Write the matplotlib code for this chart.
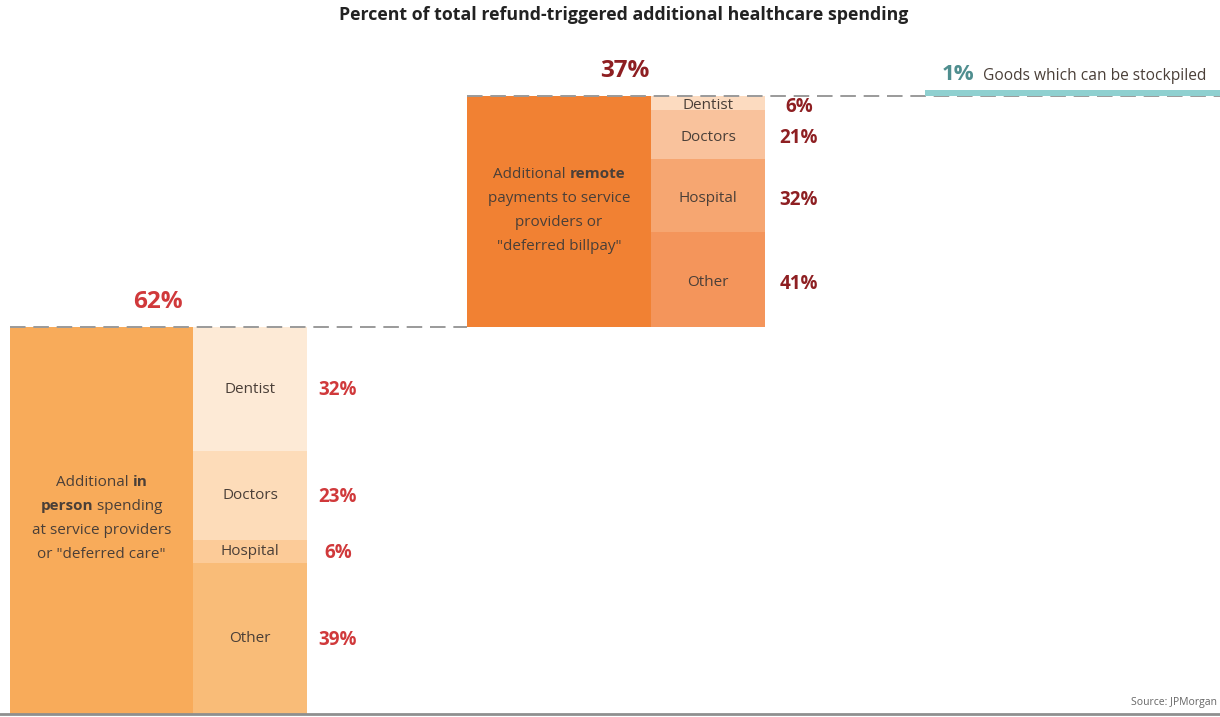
import matplotlib.pyplot as plt
from matplotlib.transforms import offset_copy

# share of total refund-triggered healthcare spending
group_names = ["in person", "remote", "goods"]
group_values = [62, 37, 1]

sub_labels = ["Dentist", "Doctors", "Hospital", "Other"]
in_person_split = [32, 23, 6, 39]
remote_split = [6, 21, 32, 41]

title = "Percent of total refund-triggered additional healthcare spending"
source = "Source: JPMorgan"

FONT = ["Open Sans", "DejaVu Sans"]
TXT = "#4a3f38"
GRID = "#9a9a9a"

in_person_cols = ["#F8AB5A", ["#FDEAD6", "#FDDCB9", "#FCCB98", "#F9BC78"]]
remote_cols = ["#F18133", ["#FCDBC0", "#F9C29C", "#F6A671", "#F4955B"]]
teal = "#8FD0D0"

fig = plt.figure(figsize=(12.2, 7.17), dpi=100)
ax = fig.add_axes([0, 0, 1, 1])
ax.set_xlim(0, 1220)
# 6.24 px per percentage point, baseline 3 px above the bottom edge
ax.set_ylim(-3 / 6.24, 714 / 6.24)
ax.axis("off")


def rich_line(ax, x, y, runs, size, color):
    """Draw a centred line made of (text, weight) runs."""
    fig.canvas.draw()
    r = fig.canvas.get_renderer()
    pieces = []
    for s, w in runs:
        t = ax.text(x, y, s, fontsize=size, fontweight=w, color=color,
                    family=FONT, ha="left", va="center")
        pieces.append(t)
    widths = [p.get_window_extent(r).width for p in pieces]
    total = sum(widths)
    off = -total / 2
    for p, w in zip(pieces, widths):
        p.set_transform(offset_copy(ax.transData, fig=fig, x=off * 72 / fig.dpi,
                                    units="points"))
        off += w


def draw_block(ax, x0, main_w, sub_w, bottom, value, split, cols, pct_color,
               body_lines, body_y, pct_x, total_x, nudge=0.0):
    top = bottom + value
    ax.bar(x0, value, width=main_w, bottom=bottom, align="edge",
           color=cols[0], linewidth=0)
    y = top
    for lab, share, c in zip(sub_labels, split, cols[1]):
        h = value * share / 100
        ax.bar(x0 + main_w, -h, width=sub_w, bottom=y, align="edge",
               color=c, linewidth=0)
        mid = y - h / 2 - nudge
        ax.text(x0 + main_w + sub_w / 2, mid, lab, ha="center", va="center",
                fontsize=11, color=TXT, family=FONT)
        ax.text(pct_x, mid - 0.2, f"{share}%", ha="center", va="center",
                fontsize=13.5, fontweight="bold", color=pct_color, family=FONT)
        y -= h
    ax.text(total_x, top + 4.1, f"{value}%", ha="center",
            va="center", fontsize=17.5, fontweight="bold", color=pct_color,
            family=FONT)
    for i, runs in enumerate(body_lines):
        rich_line(ax, x0 + main_w / 2, body_y - i * 24 / 6.24, runs, 11, TXT)


# first step: in-person spending
draw_block(ax, 10, 183, 114, 0, group_values[0], in_person_split,
           in_person_cols, "#D0393B",
           [[("Additional ", "normal"), ("in", "bold")],
            [("person", "bold"), (" spending", "normal")],
            [("at service providers", "normal")],
            [("or \"deferred care\"", "normal")]],
           (714 - 482) / 6.24, 338, 158)

# second step: remote payments
draw_block(ax, 467, 184, 114, group_values[0], group_values[1], remote_split,
           remote_cols, "#8E1F22",
           [[("Additional ", "normal"), ("remote", "bold")],
            [("payments to service", "normal")],
            [("providers or", "normal")],
            [("\"deferred billpay\"", "normal")]],
           (714 - 174) / 6.24, 799, 625, nudge=0.45)

# dashed step connectors
ax.plot([10, 467], [group_values[0]] * 2, ls=(0, (8, 4)), color=GRID, lw=1.4,
        zorder=3)
top2 = group_values[0] + group_values[1]
ax.plot([467, 1220], [top2] * 2, ls=(0, (8, 4)), color=GRID, lw=1.4, zorder=1)

# last step: goods
ax.bar(925, group_values[2], width=300, bottom=top2, align="edge",
       color=teal, linewidth=0, zorder=2)
ax.text(942, top2 + 3.5, f"{group_values[2]}%", ha="left", va="center",
        fontsize=16, fontweight="bold", color="#4F8E8F", family=FONT)
ax.text(983, top2 + 3.3, "Goods which can be stockpiled", ha="left",
        va="center", fontsize=11.2, color=TXT, family=FONT)

# baseline
ax.axhline(0, color="#8f8f8f", lw=2)

fig.text(0.511, 1 - 15 / 717, title, ha="center", va="center", fontsize=12.8,
         fontweight="bold", color="#222222", family=FONT)
fig.text(1217 / 1220, 1 - 702 / 717, source, ha="right", va="center",
         fontsize=7.5, color="#666666", family=FONT)

fig.savefig("out.png", dpi=100)
